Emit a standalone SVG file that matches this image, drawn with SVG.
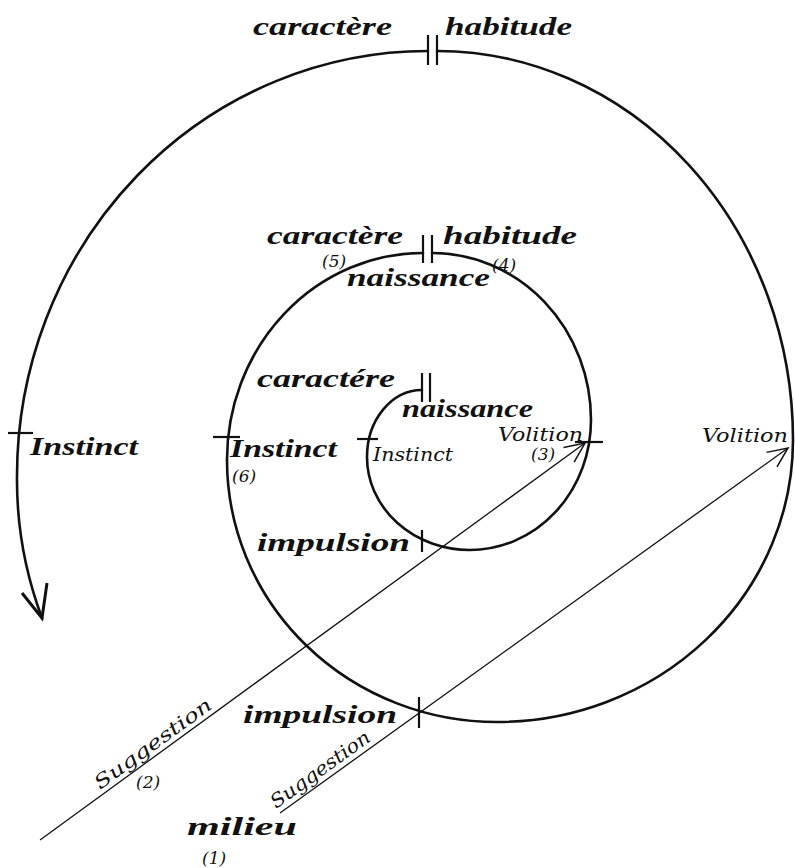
<svg xmlns="http://www.w3.org/2000/svg" width="795" height="868" viewBox="0 0 795 868">
<defs>
<style>
.spiral{fill:none;stroke:#111;stroke-width:2.6;stroke-linecap:round}
.tick{stroke:#111;stroke-width:2.2;fill:none}
.ray{stroke:#111;stroke-width:1.3;fill:none}
.script{font-family:"Liberation Serif","DejaVu Serif",serif;font-style:italic;font-weight:bold;font-size:26px;fill:#111}
.roman{font-family:"DejaVu Serif","Liberation Serif",serif;font-style:italic;font-size:19px;fill:#111}
.num{font-family:"DejaVu Serif","Liberation Serif",serif;font-style:italic;font-size:17px;fill:#111}
</style>
<marker id="open" viewBox="-24 -12 28 24" markerWidth="28" markerHeight="24" refX="0" refY="0" orient="auto" markerUnits="userSpaceOnUse">
<path d="M-20,-9 L0,0 L-20,9" fill="none" stroke="#111" stroke-width="1.5"/>
</marker>
</defs>
<rect width="795" height="868" fill="#fff"/>
<g id="connectors">
<path id="spiral-inner-middle" class="spiral" d="M422,390 A55,67 0 0 0 367,457 A103,93 0 0 0 470,550 A121,130 0 0 0 591,420 A159,167 0 0 0 432,253"/>
<path id="spiral-middle-outer" class="spiral" d="M423,253 A196,207 0 0 0 227,460 A270,262 0 0 0 497,722 A296,282 0 0 0 793,440 A356,389 0 0 0 437,51"/>
<path id="spiral-outer-end" class="spiral" d="M428,51 A411,425 0 0 0 17,476 A450,420 0 0 0 42,618"/>
<path id="spiral-arrowhead" d="M22,593 L42,618 L47,583" fill="none" stroke="#111" stroke-width="3" stroke-linejoin="miter"/>
<line id="suggestion-2" class="ray" x1="40" y1="840" x2="585" y2="443" marker-end="url(#open)"/>
<line id="suggestion-1" class="ray" x1="280" y1="813" x2="788" y2="448" marker-end="url(#open)"/>
</g>
<g id="ticks">
<line class="tick" x1="422" y1="373" x2="422" y2="402"/>
<line class="tick" x1="430" y1="373" x2="430" y2="402"/>
<line class="tick" x1="423" y1="235" x2="423" y2="263"/>
<line class="tick" x1="432" y1="235" x2="432" y2="263"/>
<line class="tick" x1="428" y1="35" x2="428" y2="65"/>
<line class="tick" x1="437" y1="35" x2="437" y2="65"/>
<line class="tick" x1="357" y1="439" x2="378" y2="439"/>
<line class="tick" x1="422" y1="530" x2="422" y2="552"/>
<line class="tick" x1="575" y1="442" x2="603" y2="442"/>
<line class="tick" x1="213" y1="437" x2="240" y2="437"/>
<line class="tick" x1="419" y1="697" x2="419" y2="728"/>
<line class="tick" x1="8" y1="433" x2="33" y2="433"/>
</g>
<g id="outer-top">
<text class="script" x="253" y="35" textLength="139" lengthAdjust="spacingAndGlyphs">caractère</text>
<text class="script" x="445" y="35" textLength="127" lengthAdjust="spacingAndGlyphs">habitude</text>
</g>
<g id="middle-top">
<text class="script" x="267" y="244" textLength="136" lengthAdjust="spacingAndGlyphs">caractère</text>
<text class="script" x="443" y="244" textLength="134" lengthAdjust="spacingAndGlyphs">habitude</text>
<text class="num" x="322" y="267">(5)</text>
<text class="num" x="492" y="271">(4)</text>
<text class="script" x="347" y="286" textLength="143" lengthAdjust="spacingAndGlyphs">naissance</text>
</g>
<g id="inner-top">
<text class="script" x="257" y="387" textLength="138" lengthAdjust="spacingAndGlyphs">caractére</text>
<text class="script" x="402" y="417" textLength="131" lengthAdjust="spacingAndGlyphs">naissance</text>
</g>
<g id="inner-volition">
<text class="roman" x="498" y="441" textLength="85" lengthAdjust="spacingAndGlyphs">Volition</text>
<text class="num" x="531" y="460">(3)</text>
</g>
<g id="inner-instinct">
<text class="roman" x="373" y="461" textLength="80" lengthAdjust="spacingAndGlyphs">Instinct</text>
</g>
<g id="middle-instinct">
<text class="script" x="230" y="457" textLength="107" lengthAdjust="spacingAndGlyphs">Instinct</text>
<text class="num" x="232" y="482">(6)</text>
</g>
<g id="outer-instinct">
<text class="script" x="30" y="455" textLength="108" lengthAdjust="spacingAndGlyphs">Instinct</text>
</g>
<g id="inner-impulsion">
<text class="script" x="257" y="551" textLength="153" lengthAdjust="spacingAndGlyphs">impulsion</text>
</g>
<g id="outer-volition">
<text class="roman" x="702" y="442" textLength="86" lengthAdjust="spacingAndGlyphs">Volition</text>
</g>
<g id="middle-impulsion">
<text class="script" x="243" y="723" textLength="154" lengthAdjust="spacingAndGlyphs">impulsion</text>
</g>
<g id="suggestion-2-label">
<text class="roman" x="0" y="0" transform="translate(100,790) rotate(-36)" textLength="140" lengthAdjust="spacingAndGlyphs">Suggestion</text>
<text class="num" x="136" y="788">(2)</text>
</g>
<g id="suggestion-1-label">
<text class="roman" x="0" y="0" transform="translate(276,809) rotate(-35.7)" textLength="118" lengthAdjust="spacingAndGlyphs">Suggestion</text>
</g>
<g id="milieu">
<text class="script" x="187" y="835" textLength="110" lengthAdjust="spacingAndGlyphs">milieu</text>
<text class="num" x="202" y="864">(1)</text>
</g>
</svg>
